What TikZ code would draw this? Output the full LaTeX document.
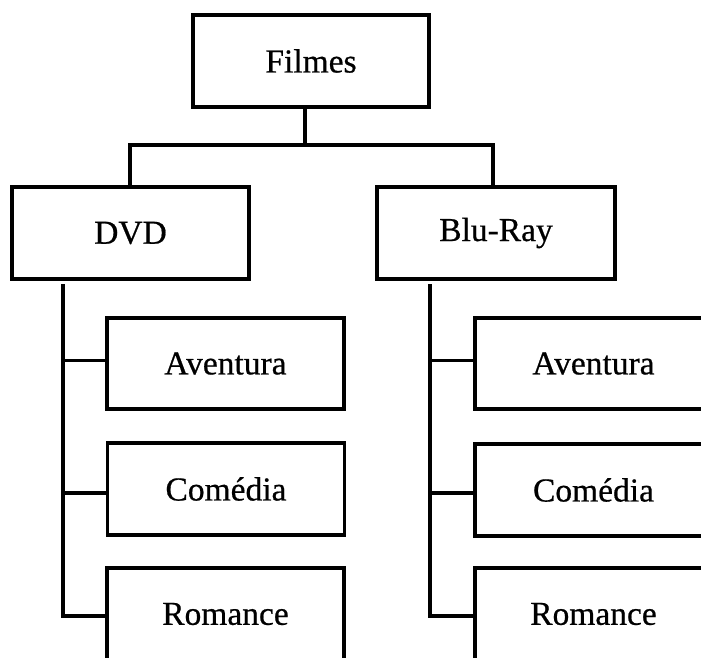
\documentclass[tikz,border=0pt]{standalone}
\usepackage{fontspec}
\setmainfont[FakeBold=0.6]{Liberation Serif}
\begin{document}
\begin{tikzpicture}[x=1pt,y=-1pt,
  box/.style={draw=black, line width=3.5pt, fill=white, minimum height=92pt, inner sep=0pt,
    font=\fontsize{33.5}{38}\selectfont},
  conn/.style={draw=black, line width=3.5pt}]
\useasboundingbox (0,0) rectangle (701,657);
\fill[white] (0,0) rectangle (701,657);
\clip (0,0) rectangle (701,657);
% top
\node[box, minimum width=236pt] (filmes) at (311,61) {Filmes};
\node[box, minimum width=237pt] (dvd) at (130.5,233) {DVD};
\node[box, minimum width=238pt] (blu) at (496,233) {Blu-Ray};
% left children
\node[box, minimum width=237pt, minimum height=91pt] (la) at (225.5,363.5) {Aventura};
\node[box, minimum width=237pt] (lc) at (226,489) {Comédia};
\node[box, minimum width=237pt] (lr) at (225.5,614) {Romance};
% right children
\node[box, minimum width=237pt, minimum height=91pt] (ra) at (593.5,363.5) {Aventura};
\node[box, minimum width=237pt] (rc) at (593.5,490) {Comédia};
\node[box, minimum width=237pt] (rr) at (593.5,614) {Romance};
% connectors top
\coordinate (fj) at (305,145);
\draw[conn] (fj) -- (fj |- filmes.south);
\draw[conn] (130,0 |- dvd.north) |- (fj) -| (493,0 |- blu.north);
% left tree
\coordinate (ldl) at (63,284);
\draw[conn] (ldl) |- ([yshift=-2pt]lr.west);
\draw[conn] ([yshift=3pt]ldl |- la.west) -- ([yshift=3pt]la.west);
\draw[conn] ([yshift=-4pt]ldl |- lc.west) -- ([yshift=-4pt]lc.west);
% right tree
\coordinate (rdl) at (430,284);
\draw[conn] (rdl) |- ([yshift=-2pt]rr.west);
\draw[conn] ([yshift=3pt]rdl |- ra.west) -- ([yshift=3pt]ra.west);
\draw[conn] ([yshift=-3pt]rdl |- rc.west) -- ([yshift=-3pt]rc.west);
\end{tikzpicture}
\end{document}
